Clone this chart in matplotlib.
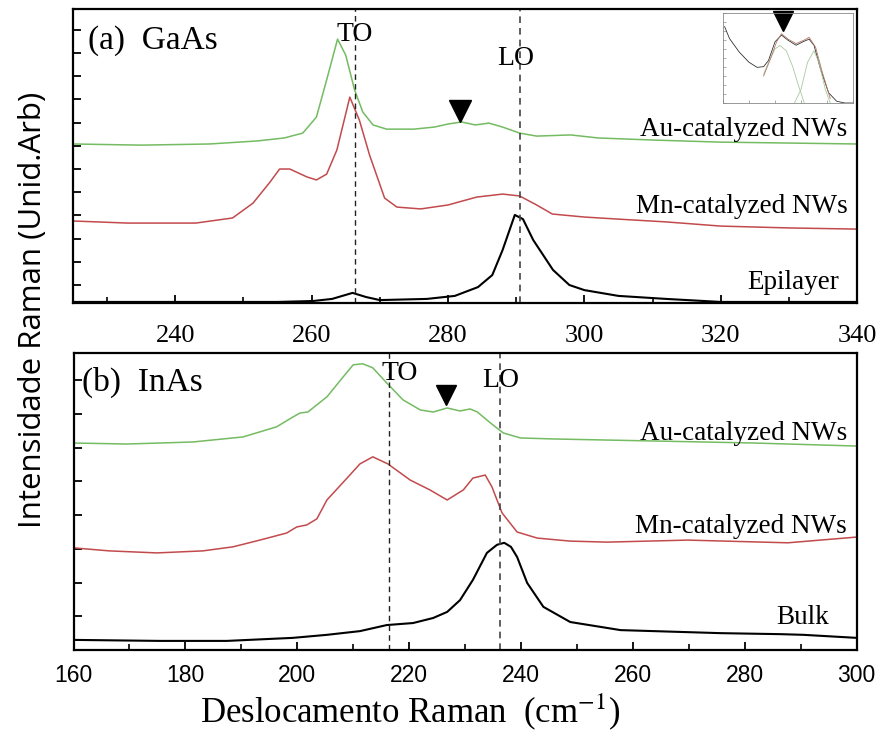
import matplotlib
matplotlib.use('Agg')
import matplotlib.pyplot as plt
from matplotlib.ticker import MultipleLocator

plt.rcParams['mathtext.fontset'] = 'stix'

# (a) GaAs spectra
gaas_au_x = [225, 235, 245, 252, 256, 258.7, 260.7, 262.2, 263.8, 265, 266.3, 267.5, 269, 271, 275, 278,
             280, 282, 284, 286, 288, 290.5, 293, 298, 302, 310, 320, 330, 340]
gaas_au_y = [6.08, 6.03, 6.08, 6.21, 6.34, 6.55, 7.24, 8.84, 10.6, 9.91, 8.41, 7.46, 6.9, 6.72, 6.72, 6.81,
             6.94, 7.03, 6.9, 6.98, 6.81, 6.55, 6.42, 6.47, 6.34, 6.25, 6.16, 6.12, 6.08]
gaas_mn_x = [225, 233, 243, 248.4, 251.4, 253.9, 255.3, 256.8, 259.3, 260.7, 262.2, 263.7, 265.6, 267, 268.5,
             270.7, 272.5, 276, 280, 284.2, 288, 290.5, 293, 295.3, 300, 305, 312, 320, 330, 340]
gaas_mn_y = [2.76, 2.67, 2.67, 2.89, 3.53, 4.44, 5.0, 5.0, 4.66, 4.53, 4.78, 5.82, 8.1, 7.11, 5.6,
             3.75, 3.36, 3.28, 3.45, 3.79, 3.92, 3.84, 3.45, 3.06, 2.93, 2.84, 2.72, 2.54, 2.46, 2.41]
gaas_epi_x = [225, 240, 255, 260.2, 263, 266, 268, 270, 276.9, 281, 284.4, 286.5, 288, 289.8, 291, 292.5,
              295.4, 297.8, 300, 305, 312, 320, 340]
gaas_epi_y = [-0.73, -0.73, -0.73, -0.69, -0.6, -0.34, -0.52, -0.65, -0.6, -0.47, -0.09, 0.43, 1.5, 3.02, 2.84, 1.94,
              0.65, 0.0, -0.22, -0.47, -0.6, -0.73, -0.73]
gaas_to, gaas_lo = 266.3, 290.6

# inset of (a): spectrum and two fitted components
ins_x = [1.25, 5, 12.5, 20, 26.25, 31.25, 35, 40, 45, 50, 56.25, 62.5, 66.25, 70, 75, 81.25, 87.5, 93.75, 100]
ins_y = [84.9, 71.7, 56.6, 45.3, 39.6, 40.4, 47.2, 67.9, 75.5, 69.8, 64.2, 68.7, 70.9, 64.2, 37.7, 11.3, 1.9, 0, 0]
fit1_x = [31.25, 35, 40, 43.75, 48.75, 53.75, 57.5, 62.5]
fit1_y = [32, 45, 60, 64, 58, 40, 22, 0]
fit2_x = [55, 60, 65, 70, 73.75, 78.75, 82.5]
fit2_y = [0, 15, 45, 58, 45, 15, 0]
fsum_x = [31.25, 36.25, 41.25, 45, 50, 56.25, 62.5, 66.25, 71.25, 76.25, 82.5]
fsum_y = [30, 48, 68, 77, 71, 66, 70, 73, 62, 35, 5]

# (b) InAs spectra
inas_au_x = [160, 169.5, 181.3, 190.3, 196.3, 199.2, 200.5, 201.9, 205.3, 208.2, 210.0, 211.7, 213.5, 216.0,
             218.9, 222.0, 224.3, 226.8, 229.1, 230.9, 232.2, 234.5, 236.8, 239.9, 245.8, 263.7, 281.6, 300]
inas_au_y = [6.14, 6.11, 6.17, 6.32, 6.62, 6.91, 7.03, 7.06, 7.51, 8.10, 8.46, 8.49, 8.37, 7.92,
             7.42, 7.12, 7.06, 7.18, 7.09, 7.15, 7.06, 6.74, 6.44, 6.29, 6.26, 6.20, 6.14, 6.05]
inas_mn_x = [160, 166.4, 174.9, 183.1, 188.5, 193.3, 198.1, 199.9, 201.7, 203.5, 205.3, 208.9, 211.2, 213.5,
             216.2, 220.2, 223.7, 226.8, 229.7, 231.4, 233.6, 234.8, 236.6, 239.3, 242.9, 248.8, 255.4,
             269.8, 287.7, 300]
inas_mn_y = [3.03, 2.94, 2.88, 2.94, 3.06, 3.26, 3.47, 3.65, 3.71, 3.89, 4.45, 5.10, 5.52, 5.73,
             5.52, 5.04, 4.75, 4.45, 4.75, 5.10, 5.19, 4.84, 4.07, 3.50, 3.32, 3.23, 3.20,
             3.26, 3.18, 3.35]
inas_bulk_x = [160, 175.4, 187.4, 199.2, 205.3, 211.2, 216.0, 220.7, 224.3, 226.8, 229.1, 231.4, 233.9, 235.7,
               237.0, 238.2, 239.3, 241.1, 244.0, 248.8, 257.8, 275.7, 286.4, 290.5, 300]
inas_bulk_y = [0.30, 0.27, 0.27, 0.36, 0.45, 0.56, 0.74, 0.80, 0.95, 1.13, 1.48, 2.08, 2.88, 3.12,
               3.18, 3.06, 2.76, 1.99, 1.28, 0.83, 0.59, 0.50, 0.47, 0.45, 0.36]
inas_to, inas_lo = 216.4, 236.3

green = '#74bb62'
red = '#c24a4c'
serif = ['Liberation Serif', 'DejaVu Serif']
narrow = ['Liberation Sans Narrow', 'Liberation Sans', 'DejaVu Sans']

fig = plt.figure(figsize=(8.82, 7.31), dpi=100)
ax1 = fig.add_axes([0.0828, 0.5855, 0.8889, 0.4022])
ax2 = fig.add_axes([0.0834, 0.1108, 0.8878, 0.4063])


def style_axis(ax, major, minor, labelfont, labelsize, pad):
    for s in ax.spines.values():
        s.set_linewidth(1.6)
    ax.xaxis.set_major_locator(MultipleLocator(major))
    ax.xaxis.set_minor_locator(MultipleLocator(minor))
    ax.yaxis.set_major_locator(MultipleLocator(1))
    ax.tick_params(axis='x', which='major', direction='in', length=6, width=1.3, top=False,
                   labelsize=labelsize, pad=pad)
    ax.tick_params(axis='x', which='minor', direction='in', length=4, width=1.2, top=False)
    ax.tick_params(axis='y', which='major', direction='in', length=6, width=1.3, right=False, labelleft=False)
    for lab in ax.get_xticklabels():
        lab.set_family(labelfont)


# ---- (a) GaAs
ax1.plot(gaas_au_x, gaas_au_y, color=green, lw=1.1)
ax1.plot(gaas_mn_x, gaas_mn_y, color=red, lw=1.1)
ax1.plot(gaas_epi_x, gaas_epi_y, color='black', lw=1.5)
ax1.axvline(gaas_to, color='#222222', lw=1.0, ls=(0, (4, 3)))
ax1.axvline(gaas_lo, color='#444444', lw=1.2, ls=(0, (4, 3)))
ax1.plot([281.7], [7.5], marker='v', color='black', ms=16, ls='none')
ax1.set_xlim(225, 340)
ax1.set_ylim(-0.776, 11.9)
style_axis(ax1, 20, 10, serif, 19, 16)
ax1.text(227.2, 10.55, '(a)  GaAs', family=serif, fontsize=24, va='center')
ax1.text(266.3, 10.8, 'TO', family=serif, fontsize=20, ha='center', va='center')
ax1.text(290.0, 9.75, 'LO', family=serif, fontsize=20, ha='center', va='center')
ax1.text(338.6, 6.72, 'Au-catalyzed NWs', family=serif, fontsize=19.5, ha='right', va='center')
ax1.text(338.6, 3.4, 'Mn-catalyzed NWs', family=serif, fontsize=19.5, ha='right', va='center')
ax1.text(337.4, 0.1, 'Epilayer', family=serif, fontsize=19.5, ha='right', va='center')

# inset
axi = fig.add_axes([0.8197, 0.8591, 0.1474, 0.1231])
axi.plot(ins_x, ins_y, color='#333333', lw=0.6)
axi.plot(fit1_x, fit1_y, color='#a9c9a0', lw=0.6)
axi.plot(fit2_x, fit2_y, color='#a9c9a0', lw=0.6)
axi.plot(fsum_x, fsum_y, color='#b07a6a', lw=0.6)
axi.plot([46.25], [91], marker='v', color='black', ms=14, ls='none', clip_on=False)
axi.set_xlim(0, 100)
axi.set_ylim(0, 100)
for s in axi.spines.values():
    s.set_linewidth(0.6)
    s.set_color('#888888')
axi.xaxis.set_major_locator(MultipleLocator(20))
axi.yaxis.set_major_locator(MultipleLocator(10))
axi.tick_params(direction='in', length=2, width=0.5, color='#888888', labelleft=False, labelbottom=False)

# ---- (b) InAs
ax2.plot(inas_au_x, inas_au_y, color=green, lw=1.1)
ax2.plot(inas_mn_x, inas_mn_y, color=red, lw=1.1)
ax2.plot(inas_bulk_x, inas_bulk_y, color='black', lw=1.5)
ax2.axvline(inas_to, color='#222222', lw=1.0, ls=(0, (4, 3)))
ax2.axvline(inas_lo, color='#444444', lw=1.2, ls=(0, (4, 3)))
ax2.plot([226.6], [7.57], marker='v', color='black', ms=14, ls='none')
ax2.set_xlim(160, 300)
ax2.set_ylim(0, 8.81)
style_axis(ax2, 20, 10, narrow, 16.5, 10)
ax2.text(161.5, 7.95, '(b)  InAs', family=serif, fontsize=24, va='center')
ax2.text(218.3, 8.2, 'TO', family=serif, fontsize=20, ha='center', va='center')
ax2.text(236.3, 8.0, 'LO', family=serif, fontsize=20, ha='center', va='center')
ax2.text(298.3, 6.42, 'Au-catalyzed NWs', family=serif, fontsize=19.5, ha='right', va='center')
ax2.text(298.3, 3.65, 'Mn-catalyzed NWs', family=serif, fontsize=19.5, ha='right', va='center')
ax2.text(295.0, 0.95, 'Bulk', family=serif, fontsize=19.5, ha='right', va='center')

fig.text(0.465, 0.027, r'Deslocamento Raman  (cm$^{-1}$)', family=serif, fontsize=25,
         ha='center', va='center')
fig.text(0.037, 0.576, 'Intensidade Raman (Unid.Arb)', family=['Open Sans', 'DejaVu Sans'], fontsize=22.5,
         rotation=90, ha='center', va='center')

fig.savefig('out.png', dpi=100)
